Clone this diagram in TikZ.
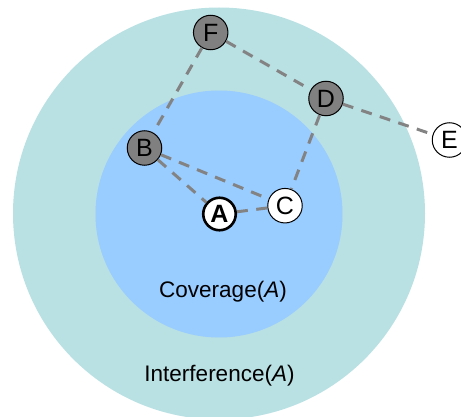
\documentclass[tikz,border=0pt]{standalone}
\usepackage{fontspec}
\setmainfont{Liberation Sans}
\begin{document}
\begin{tikzpicture}[x=1pt,y=-1pt,
  stn/.style={circle,draw=black,line width=1pt,minimum size=34.5pt,inner sep=0pt},
  dark/.style={stn,fill=nodegray},
  light/.style={stn,fill=white},
  home/.style={stn,fill=white,line width=2.6pt,minimum size=32.5pt},
  link/.style={draw=linkgray,line width=3pt,dash pattern=on 11pt off 8.5pt},
  zone/.style={font=\fontsize{22.5}{26}\selectfont}]
\definecolor{outerzone}{HTML}{B9E0E3}
\definecolor{innerzone}{HTML}{99CCFF}
\definecolor{nodegray}{HTML}{808080}
\definecolor{linkgray}{HTML}{838383}
\newcommand{\stnlabel}[1]{\fontsize{25}{27}\selectfont #1}
\useasboundingbox (0,0) rectangle (461,417);
% interference and coverage ranges of A
\fill[outerzone] (219,213.5) circle[radius=206];
\fill[innerzone] (219,214) circle[radius=123.5];
% stations
\node[dark]  (F) at (210.7,32.5) {\stnlabel{F}};
\node[dark]  (D) at (326,98.5) {\stnlabel{D}};
\node[dark]  (B) at (144.5,148) {\stnlabel{B}};
\node[home]  (A) at (219.5,214) {\stnlabel{\bfseries A}};
\node[light] (C) at (285,205.7) {\stnlabel{C}};
\node[light] (E) at (449.5,140) {\stnlabel{E}};
% links
\path[link] (F) -- (B);
\path[link] (F) -- (D);
\path[link] (D) -- (E);
\path[link] (D) -- (C);
\path[link] (B) -- (C);
\path[link] (B) -- (A);
\path[link] (A) -- (C);
% range labels
\node[zone] (cov) at (223,292) {Coverage(\textit{A})};
\node[zone] (intf) at (219.5,375.5) {Interference(\textit{A})};
\end{tikzpicture}
\end{document}
